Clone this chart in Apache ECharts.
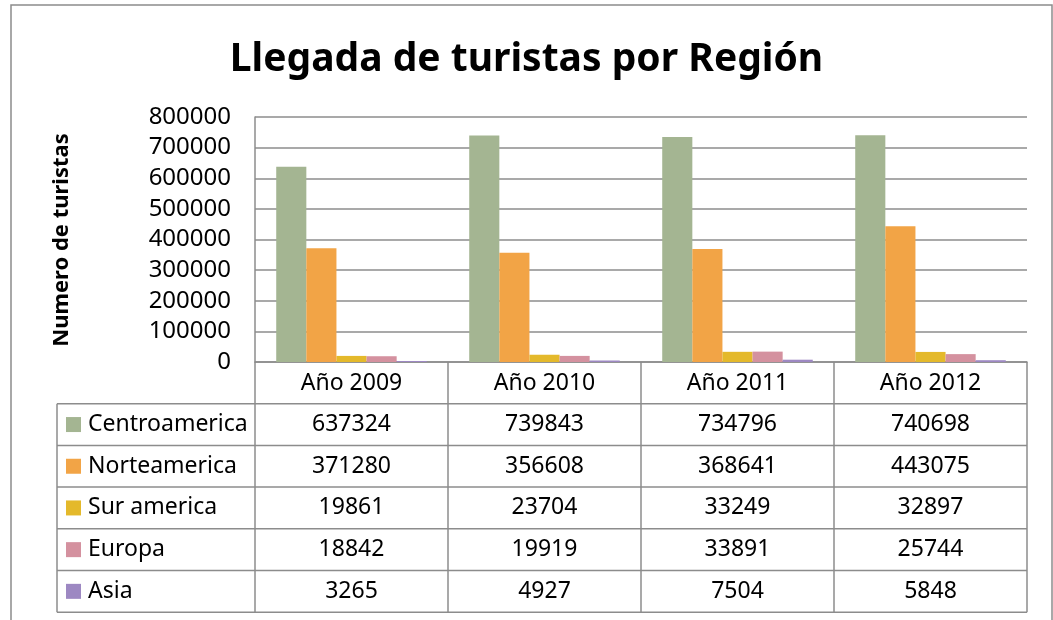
<!DOCTYPE html>
<html>
<head>
<meta charset="utf-8">
<script src="https://cdn.jsdelivr.net/npm/echarts@6/dist/echarts.min.js"></script>
<style>
html, body { margin: 0; padding: 0; background: #fff; }
#chart { width: 1053px; height: 620px; }
</style>
</head>
<body>
<div id="chart"></div>
<script>
// datos
var years = ['Año 2009', 'Año 2010', 'Año 2011', 'Año 2012'];
var regions = ['Centroamerica', 'Norteamerica', 'Sur america', 'Europa', 'Asia'];
var centroamerica = [637324, 739843, 734796, 740698];
var norteamerica = [371280, 356608, 368641, 443075];
var surAmerica = [19861, 23704, 33249, 32897];
var europa = [18842, 19919, 33891, 25744];
var asia = [3265, 4927, 7504, 5848];
var yTicks = [0, 100000, 200000, 300000, 400000, 500000, 600000, 700000, 800000];

var seriesData = [centroamerica, norteamerica, surAmerica, europa, asia];
var colors = ['#a4b592', '#f2a446', '#e4b92b', '#d4919f', '#9d88c2'];

var FONT = '"Noto Sans", "Open Sans", sans-serif';
var lineCol = '#8c8c8c';
var txtSize = 23;

// layout
var gLeft = 255, gRight = 1027, gTop = 117, gBottom = 362;
var rowH = 41.7;
var tableLeft = 57;

var myChart = echarts.init(document.getElementById('chart'));

var series = [];
for (var i = 0; i < regions.length; i++) {
    series.push({
        name: regions[i],
        type: 'bar',
        data: seriesData[i],
        barGap: '0%',
        barCategoryGap: '22%',
        itemStyle: { color: colors[i] }
    });
}

function buildTable() {
    var els = [];
    var colW = (gRight - gLeft) / years.length;
    var tBottom = gBottom + rowH * (regions.length + 1);

    // borde exterior
    els.push({
        type: 'rect',
        shape: { x: 11, y: 5, width: 1041, height: 700 },
        style: { fill: 'none', stroke: lineCol, lineWidth: 1.5 },
        silent: true
    });

    // titulo del eje y
    els.push({
        type: 'text',
        x: 62, y: 240,
        rotation: Math.PI / 2,
        style: {
            text: 'Numero de turistas',
            font: 'bold 22px ' + FONT,
            fill: '#000',
            align: 'center', verticalAlign: 'middle',
            textAlign: 'center', textVerticalAlign: 'middle'
        }
    });

    // lineas verticales
    for (var c = 0; c <= years.length; c++) {
        var x = gLeft + c * colW;
        els.push({
            type: 'line',
            shape: { x1: x, y1: gBottom, x2: x, y2: tBottom },
            style: { stroke: lineCol, lineWidth: 1.5 }
        });
    }
    els.push({
        type: 'line',
        shape: { x1: tableLeft, y1: gBottom + rowH, x2: tableLeft, y2: tBottom },
        style: { stroke: lineCol, lineWidth: 1.5 }
    });

    // filas
    for (var r = 0; r < regions.length; r++) {
        var y0 = gBottom + rowH * (r + 1);
        els.push({
            type: 'line',
            shape: { x1: tableLeft, y1: y0, x2: gRight, y2: y0 },
            style: { stroke: lineCol, lineWidth: 1.5 }
        });
        var cy = y0 + rowH / 2;
        els.push({
            type: 'rect',
            shape: { x: 66, y: cy - 7.5, width: 15, height: 15 },
            style: { fill: colors[r] }
        });
        els.push({
            type: 'text',
            x: 88, y: cy,
            style: {
                text: regions[r],
                font: txtSize + 'px ' + FONT,
                fill: '#000',
                align: 'left', verticalAlign: 'middle',
                textAlign: 'left', textVerticalAlign: 'middle'
            }
        });
        for (var k = 0; k < years.length; k++) {
            els.push({
                type: 'text',
                x: gLeft + colW * (k + 0.5), y: cy,
                style: {
                    text: String(seriesData[r][k]),
                    font: txtSize + 'px ' + FONT,
                    fill: '#000',
                    align: 'center', verticalAlign: 'middle',
                    textAlign: 'center', textVerticalAlign: 'middle'
                }
            });
        }
    }
    els.push({
        type: 'line',
        shape: { x1: tableLeft, y1: tBottom, x2: gRight, y2: tBottom },
        style: { stroke: lineCol, lineWidth: 1.5 }
    });
    return els;
}

var option = {
    animation: false,
    title: {
        text: 'Llegada de turistas por Región',
        left: 'center',
        top: 35,
        textStyle: {
            fontFamily: FONT,
            fontWeight: 'bold',
            fontSize: 39,
            color: '#000'
        }
    },
    grid: {
        left: gLeft,
        right: 1053 - gRight,
        top: gTop,
        bottom: 620 - gBottom
    },
    xAxis: {
        type: 'category',
        data: years,
        axisLine: { lineStyle: { color: lineCol, width: 1.5 } },
        axisTick: { show: false },
        axisLabel: {
            fontFamily: FONT,
            fontSize: txtSize,
            color: '#000',
            margin: 9,
            lineHeight: 24
        }
    },
    yAxis: {
        type: 'value',
        min: yTicks[0],
        max: yTicks[yTicks.length - 1],
        interval: yTicks[1] - yTicks[0],
        axisLine: { show: true, lineStyle: { color: lineCol, width: 1.5 } },
        axisTick: { show: false },
        splitLine: { lineStyle: { color: lineCol, width: 1.5 } },
        axisLabel: {
            fontFamily: FONT,
            fontSize: 24,
            color: '#000',
            margin: 24,
            formatter: function (v) { return String(v); }
        }
    },
    series: series,
    graphic: buildTable()
};

myChart.setOption(option);
</script>
</body>
</html>
